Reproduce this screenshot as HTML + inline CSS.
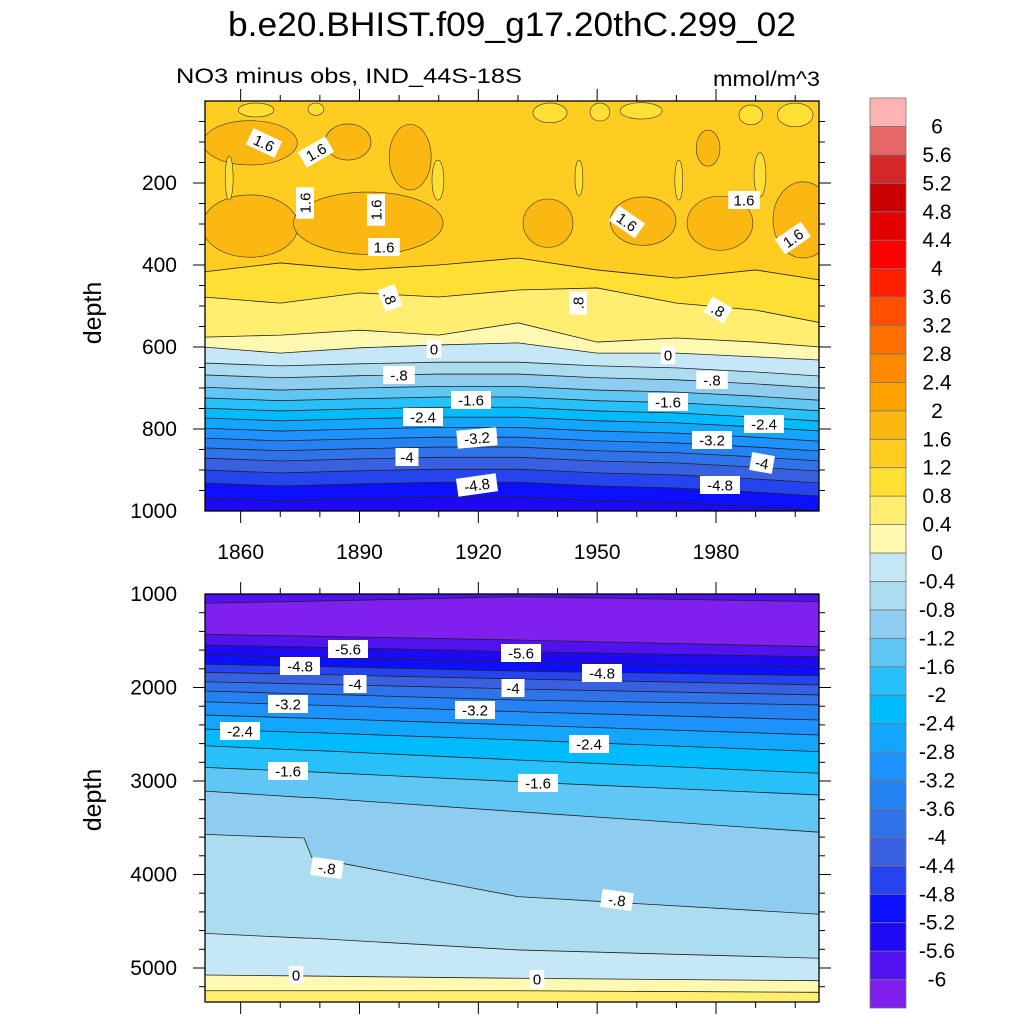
<!DOCTYPE html>
<html><head><meta charset="utf-8"><style>
html,body{margin:0;padding:0;background:#fff}
svg{display:block;font-family:"Liberation Sans",Arial,sans-serif}
</style></head><body>
<svg id="chart" width="1024" height="1024" viewBox="0 0 1024 1024" xmlns="http://www.w3.org/2000/svg">
<defs>
<clipPath id="clipTop"><rect x="205" y="101" width="614" height="410"/></clipPath>
<clipPath id="clipBot"><rect x="205" y="594" width="614" height="408"/></clipPath>
</defs>
<text x="512" y="36" font-size="34" text-anchor="middle" textLength="568" lengthAdjust="spacingAndGlyphs">b.e20.BHIST.f09_g17.20thC.299_02</text>
<text x="176" y="83" font-size="21" textLength="346" lengthAdjust="spacingAndGlyphs">NO3 minus obs, IND_44S-18S</text>
<text x="820" y="86" font-size="21" text-anchor="end" textLength="107" lengthAdjust="spacingAndGlyphs">mmol/m^3</text>
<text transform="translate(101,313) rotate(-90)" font-size="25" text-anchor="middle">depth</text>
<text transform="translate(101,800) rotate(-90)" font-size="25" text-anchor="middle">depth</text>
<g id="gTop" clip-path="url(#clipTop)"></g>
<g id="gBot" clip-path="url(#clipBot)"></g>
<g id="gLabels"></g>
<g id="gAxes"></g>
<g id="gBar"></g>
</svg>
<script>
// ---- data ----
const levels = [-6,-5.6,-5.2,-4.8,-4.4,-4,-3.6,-3.2,-2.8,-2.4,-2,-1.6,-1.2,-0.8,-0.4,0,0.4,0.8,1.2,1.6,2,2.4,2.8,3.2,3.6,4,4.4,4.8,5.2,5.6,6];
const levelLabels = ["-6","-5.6","-5.2","-4.8","-4.4","-4","-3.6","-3.2","-2.8","-2.4","-2","-1.6","-1.2","-0.8","-0.4","0","0.4","0.8","1.2","1.6","2","2.4","2.8","3.2","3.6","4","4.4","4.8","5.2","5.6","6"];
const fillColors = ["#8020ee","#5212f0","#1e0af2","#0c10ff","#2644ee","#3a60e2","#3072ea","#2482f2","#1e92ff","#12a6ff","#00bcff","#28c0f8","#60c6f4","#8ecdf0","#acdcf0","#c6e7f5","#fff8b0","#ffee70","#ffdf34","#ffcd22","#fcb812","#ffa200","#ff8a00","#ff7000","#ff5000","#ff2000","#ff0000","#e40000","#c80000","#d22828","#e86868","#ffb4b4"];

const topYears = [1851,1870,1890,1910,1930,1950,1970,1990,2006];
const topLineValues = [1.2,0.8,0.4,0];
const topLineDepths = [
 [417,395,412,400,383,412,432,412,437],
 [478,493,468,478,461,456,493,510,541],
 [576,571,559,571,541,588,578,588,600],
 [600,615,602,595,590,615,615,624,632]];
const deepValues = [-0.4,-0.8,-1.2,-1.6,-2,-2.4,-2.8,-3.2,-3.6,-4,-4.4,-4.8,-5.2];
const deepBase = [600,607,602,598,598,607,612,622,632];
const deepOffsets = [39,68,98,124,149,173,198,222,246,271,300,332,368];
const topBandValues = [1.4,1.0,0.6,0.2,-0.2,-0.6,-1.0,-1.4,-1.8,-2.2,-2.6,-3.0,-3.4,-3.8,-4.2,-4.6,-5.0,-5.4];

const blobYear  = [1862.4,1887.1,1902.8,1862.4,1892.2,1937.6,1961.6,1981.0,2002.0,1978.0,1863.9,1879.0,1938.1,1950.7,1961.1,1988.8,2000.0,1857.1,1909.8,1945.4,1970.6,1991.1];
const blobDepth = [102,100,137,305,298,298,293,298,290,115,22,20,29,27,24,34,34,188,193,188,193,180];
const blobRYears= [11.9,5.8,5.3,12.1,18.9,6.3,8.3,8.3,7.6,3.0,4.5,2.0,4.3,2.5,5.3,3.0,4.5,1.0,1.5,1.0,1.0,1.5];
const blobRDepth= [54,44,80,76,76,59,59,66,93,44,17,15,24,22,20,24,29,54,49,44,49,54];
const blobValue = [1.8,1.8,1.8,1.8,1.8,1.8,1.8,1.8,1.8,1.8,1.0,1.0,1.0,1.0,1.0,1.0,1.0,1.0,1.0,1.0,1.0,1.0];

const botYears = [1851,1876,1878,1930,2006];
const botLineDepths = [
 [1099,1078,1077,1029,1082],
 [1431,1450,1451,1492,1564],
 [1545,1567,1568,1617,1671],
 [1652,1677,1678,1730,1778],
 [1749,1773,1774,1824,1874],
 [1837,1859,1860,1909,1973],
 [1938,1962,1963,2016,2080],
 [2037,2068,2069,2134,2187],
 [2152,2186,2187,2259,2348],
 [2294,2327,2328,2401,2508],
 [2444,2481,2482,2561,2687],
 [2622,2671,2672,2775,2918],
 [2853,2901,2903,3008,3150],
 [3107,3176,3177,3328,3549],
 [3570,3610,3820,4237,4426],
 [4629,4680,4682,4807,4896],
 [5075,5085,5086,5110,5136],
 [5243,5243,5243,5243,5260]];
const botBandValues = [-5.8,-6.2,-5.8,-5.4,-5.0,-4.6,-4.2,-3.8,-3.4,-3.0,-2.6,-2.2,-1.8,-1.4,-1.0,-0.6,-0.2,0.2,0.6];

const xTickYears = [1860,1890,1920,1950,1980];
const topDepthTicks = [200,400,600,800,1000];
const botDepthTicks = [1000,2000,3000,4000,5000];

// ---- scales ----
const X0=205, X1=819;
function xs(yr){return X0+(yr-1851)*(X1-X0)/(2006-1851);}
function yTop(d){return 101+d*0.41;}
function yBot(d){return 594+(d-1000)*0.0935;}
function colorFor(v){let i=0;while(i<levels.length&&v>levels[i])i++;return fillColors[i];}
const NS="http://www.w3.org/2000/svg";
function mk(tag,attrs,parent){const e=document.createElementNS(NS,tag);for(const k in attrs)e.setAttribute(k,attrs[k]);parent.appendChild(e);return e;}
function linePts(years,depths,yf){return years.map((yr,i)=>{let x=xs(yr);if(i==0)x=X0-2;if(i==years.length-1)x=X1+2;return [x,yf(depths[i])];});}

function drawPanel(g,yf,topY,bottomY,years,lines,bandVals,name){
  const bg=mk('rect',{x:X0,y:topY,width:X1-X0,height:bottomY-topY,fill:colorFor(bandVals[0])},g);
  
  
  lines.forEach((dep,i)=>{
    const pts=linePts(years,dep,yf);
    const poly=pts.map(p=>p.join(',')).join(' ')+' '+(X1+2)+','+(bottomY+2)+' '+(X0-2)+','+(bottomY+2);
    const p=mk('polygon',{points:poly,fill:colorFor(bandVals[i+1])},g);
    
    
  });
}
function strokeLines(g,yf,years,lines,name){
  lines.forEach((dep)=>{
    const pts=linePts(years,dep,yf);
    const l=mk('polyline',{points:pts.map(p=>p.join(',')).join(' '),fill:'none',stroke:'#222','stroke-width':0.8},g);
    
    
  });
}

// top panel
const gTop=document.getElementById('gTop');
const topLines=topLineDepths.concat(deepOffsets.map(o=>deepBase.map(b=>b+o)));
drawPanel(gTop,yTop,101,511,topYears,topLines,topBandValues,'top');
blobYear.forEach((yr,i)=>{
  const cx=xs(yr), cy=yTop(blobDepth[i]);
  const rx=blobRYears[i]*(X1-X0)/(2006-1851), ry=blobRDepth[i]*0.41;
  const e=mk('ellipse',{cx:cx,cy:cy,rx:rx,ry:ry,fill:colorFor(blobValue[i]),stroke:'#333','stroke-width':0.6},gTop);
  
  
});
strokeLines(gTop,yTop,topYears,topLines,'top');

// bottom panel
const gBot=document.getElementById('gBot');
drawPanel(gBot,yBot,594,1002,botYears,botLineDepths,botBandValues,'bottom');
strokeLines(gBot,yBot,botYears,botLineDepths,'bottom');

// contour labels
const labelText=["1.6","1.6","1.6","1.6","1.6",".8","0","-.8","-1.6","-2.4","-3.2","-4","-4.8","1.6","1.6","1.6",".8",".8","0","-.8","-1.6","-2.4","-3.2","-4","-4.8",
"-5.6","-5.6","-4.8","-4.8","-4","-4","-3.2","-3.2","-2.4","-2.4","-1.6","-1.6","-.8","-.8","0","0"];
const labelPos=[[264,143,25],[316,152,-30],[305,203,-90],[376,210,-90],[384,247,0],[390,298,70],[434,349,0],[399,375,0],[471,400,0],[423,417,0],[477,438,-5],[407,457,0],[477,485,-8],
[627,222,35],[744,200,0],[793,238,-35],[578,303,-90],[718,310,30],[668,355,0],[712,380,0],[668,402,0],[764,424,0],[712,440,0],[762,463,10],[720,485,0],
[348,649,0],[521,653,0],[300,666,0],[602,673,0],[355,684,0],[513,688,0],[288,704,0],[475,710,0],[240,731,0],[589,744,0],[288,771,0],[538,783,0],[327,868,8],[617,900,8],[296,975,0],[537,979,0]];
const gL=document.getElementById('gLabels');
labelText.forEach((t,i)=>{
  const [x,y,r]=labelPos[i];
  const g=mk('g',{transform:`translate(${x},${y}) rotate(${r})`},gL);
  
  
  const w=t.length*8.5+6;
  mk('rect',{x:-w/2,y:-9,width:w,height:18,fill:'#fff'},g);
  const tx=mk('text',{x:0,y:5.5,'font-size':15,'text-anchor':'middle'},g);
  tx.textContent=t;
});

// axes
const gA=document.getElementById('gAxes');
function ln(x1,y1,x2,y2,w){mk('line',{x1:x1,y1:y1,x2:x2,y2:y2,stroke:'#000','stroke-width':w||1},gA);}
[[101,511],[594,1002]].forEach(([t,b],pi)=>{
  const r=mk('rect',{x:X0,y:t,width:X1-X0,height:b-t,fill:'none',stroke:'#000','stroke-width':1.3},gA);
  
  
  for(let yr=1860;yr<=2000;yr+=10){
    const x=xs(yr);const maj=(yr-1860)%30==0;const L=maj?12:6;
    ln(x,t,x,t-L);ln(x,b,x,b+L);
  }
});
xTickYears.forEach(yr=>{
  const tx=mk('text',{x:xs(yr),y:559,'font-size':21,'text-anchor':'middle'},gA);
  tx.textContent=yr;
  
  
});
for(let d=50;d<1000;d+=50){const y=yTop(d);const maj=d%200==0;const L=maj?12:6;ln(X0,y,X0-L,y);ln(X1,y,X1+L,y);}
topDepthTicks.forEach(d=>{
  const tx=mk('text',{x:177,y:yTop(d)+7,'font-size':21,'text-anchor':'end'},gA);
  tx.textContent=d;
  
  
});
for(let d=1200;d<=5200;d+=200){const y=yBot(d);const maj=d%1000==0;const L=maj?12:6;ln(X0,y,X0-L,y);ln(X1,y,X1+L,y);}
botDepthTicks.forEach(d=>{
  const tx=mk('text',{x:177,y:yBot(d)+7,'font-size':21,'text-anchor':'end'},gA);
  tx.textContent=d;
  
  
});

// colorbar
const gB=document.getElementById('gBar');
const BT=98,BB=1008,BH=(BB-BT)/fillColors.length;
for(let i=0;i<fillColors.length;i++){
  const y=BB-(i+1)*BH;
  const r=mk('rect',{x:870,y:y,width:36,height:BH,fill:fillColors[i],stroke:'#777','stroke-width':0.8},gB);
  
  
}
levelLabels.forEach((t,i)=>{
  const y=BB-(i+1)*BH;
  const tx=mk('text',{x:937,y:y+7,'font-size':21,'text-anchor':'middle'},gB);
  tx.textContent=t;
  
  
});
</script>
</body></html>
